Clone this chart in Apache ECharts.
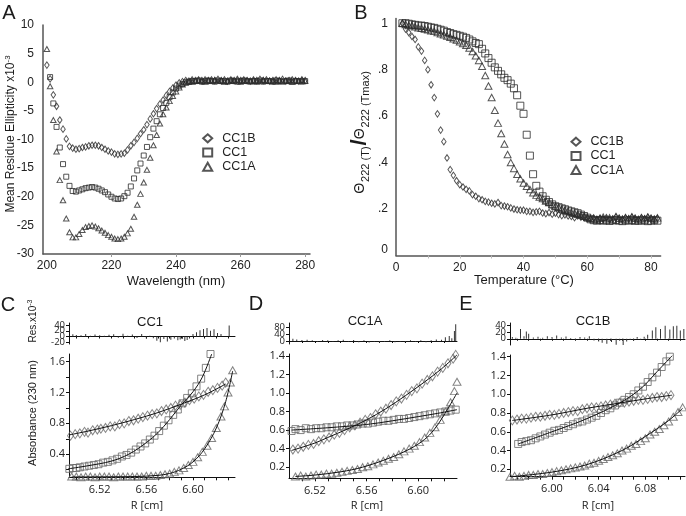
<!DOCTYPE html>
<html><head><meta charset="utf-8">
<script src="https://cdn.jsdelivr.net/npm/echarts@6/dist/echarts.min.js"></script>
<style>html,body{margin:0;padding:0;background:#fff}#c{width:686px;height:516px}</style>
</head><body><div id="c"></div><script>
// ---------- Panel A: CD spectra (wavelength, nm) ----------
const A_CC1B_start = 200;
const A_CC1B = [3.0,0.6,-2.2,-4.2,-6.6,-8.2,-9.9,-11.2,-11.5,-11.7,
 -11.6,-11.4,-11.3,-11.1,-11.0,-11.0,-11.1,-11.4,-11.7,-12.0,
 -12.2,-12.5,-12.6,-12.5,-12.4,-11.8,-11.1,-10.5,-9.8,-9.0,
 -8.3,-7.4,-6.4,-5.5,-4.6,-3.8,-3.1,-2.3,-1.6,-1.0,
 -0.5,-0.1,0.1,0.3,0.2,0.4,0.3,0.4,0.3,0.4,
 0.3,0.4,0.3,0.5,0.3,0.4,0.2,0.4,0.3,0.5,
 0.3,0.4,0.3,0.2,0.4,0.3,0.5,0.3,0.4,0.2,
 0.3,0.4,0.3,0.5,0.2,0.3,0.4,0.3,0.2,0.4,0.3];
const A_CC1_start = 201;
const A_CC1 = [0.9,-3.7,-7.8,-11.4,-14.3,-16.5,-18.1,-19.0,-19.1,-18.9,
 -18.7,-18.5,-18.4,-18.3,-18.4,-18.6,-18.9,-19.2,-19.6,-20.0,
 -20.3,-20.4,-20.3,-19.9,-19.3,-18.2,-16.8,-15.4,-14.2,-12.8,
 -11.3,-9.6,-8.1,-6.8,-5.6,-4.5,-3.6,-2.6,-1.8,-1.1,
 -0.6,-0.3,0.0,0.1,0.2,0.2,0.3,0.1,0.2,0.3,
 0.2,0.1,0.3,0.2,0.2,0.1,0.3,0.2,0.1,0.2,
 0.3,0.2,0.1,0.2,0.2,0.3,0.1,0.2,0.2,0.1,
 0.3,0.2,0.1,0.2,0.3,0.1,0.2,0.2,0.1,0.2];
const A_CC1A_start = 200;
const A_CC1A = [5.8,-0.7,-6.6,-12.1,-17.1,-20.6,-23.8,-26.2,-27.1,-27.1,
 -26.5,-25.8,-25.3,-25.1,-25.0,-25.2,-25.5,-25.9,-26.3,-26.7,
 -27.0,-27.3,-27.4,-27.3,-27.0,-26.4,-25.6,-23.5,-21.4,-19.5,
 -17.5,-15.3,-13.2,-11.0,-9.2,-7.2,-5.6,-4.4,-3.3,-2.4,
 -1.6,-0.9,-0.4,-0.1,0.1,0.1,0.2,0.3,0.2,0.1,
 0.3,0.2,0.4,0.2,0.3,0.1,0.2,0.3,0.2,0.4,
 0.1,0.2,0.3,0.2,0.3,0.1,0.2,0.4,0.2,0.3,
 0.2,0.1,0.3,0.2,0.3,0.2,0.1,0.3,0.2,0.4,0.2];
const A_xLabels = [200,220,240,260,280];

// ---------- Panel B: thermal melts (temperature, °C) ----------
const B_start = 2;
const B_CC1B = [1.0,0.975,0.96,0.943,0.93,0.898,0.88,0.84,0.80,0.735,
 0.68,0.61,0.54,0.49,0.42,0.37,0.345,0.322,0.305,0.295,
 0.285,0.278,0.262,0.255,0.245,0.24,0.233,0.23,0.225,0.222,
 0.228,0.215,0.213,0.21,0.205,0.2,0.197,0.195,0.195,0.19,
 0.19,0.186,0.188,0.19,0.183,0.18,0.185,0.178,0.182,0.176,
 0.172,0.175,0.17,0.168,0.163,0.17,0.165,0.165,0.16,0.158,
 0.162,0.155,0.16,0.157,0.163,0.155,0.158,0.165,0.16,0.155,
 0.162,0.158,0.165,0.16,0.155,0.163,0.158,0.165,0.16,0.155,0.16];
const B_CC1 = [1.0,1.0,0.998,0.995,0.993,0.99,0.99,0.988,0.985,0.982,
 0.98,0.976,0.972,0.968,0.962,0.958,0.953,0.95,0.946,0.942,
 0.937,0.93,0.922,0.915,0.91,0.89,0.87,0.85,0.83,0.81,
 0.795,0.78,0.765,0.755,0.74,0.72,0.69,0.645,0.61,0.52,
 0.43,0.35,0.30,0.275,0.255,0.24,0.23,0.22,0.212,0.208,
 0.203,0.199,0.194,0.19,0.186,0.182,0.176,0.17,0.163,0.156,
 0.152,0.15,0.153,0.15,0.152,0.149,0.151,0.153,0.15,0.148,
 0.152,0.15,0.153,0.149,0.151,0.15,0.152,0.148,0.15,0.152,0.15];
const B_CC1A = [1.0,0.995,0.99,0.99,0.985,0.98,0.978,0.975,0.972,0.968,
 0.965,0.96,0.955,0.95,0.945,0.94,0.933,0.928,0.92,0.913,
 0.905,0.893,0.878,0.86,0.84,0.815,0.775,0.73,0.68,0.625,
 0.57,0.525,0.48,0.435,0.40,0.375,0.35,0.33,0.312,0.298,
 0.284,0.27,0.26,0.252,0.245,0.235,0.228,0.22,0.213,0.207,
 0.20,0.195,0.19,0.185,0.182,0.178,0.175,0.17,0.165,0.16,
 0.158,0.155,0.16,0.165,0.158,0.162,0.155,0.168,0.16,0.157,
 0.163,0.158,0.166,0.16,0.155,0.162,0.158,0.165,0.16,0.157,0.162];
const B_xLabels = [0,20,40,60,80];
const B_yLabels = [0,0.2,0.4,0.6,0.8,1];

// ---------- Panel C: CC1 sedimentation equilibrium ----------
const C_diamond = [[6.495,0.64],[6.499,0.66],[6.503,0.67],[6.507,0.69],[6.510,0.68],[6.514,0.71],[6.518,0.72],[6.521,0.73],[6.525,0.74],[6.529,0.76],[6.533,0.76],[6.537,0.79],[6.541,0.80],[6.545,0.83],[6.549,0.84],[6.553,0.86],[6.557,0.88],[6.561,0.90],[6.565,0.92],[6.569,0.93],[6.573,0.96],[6.577,0.98],[6.581,1.00],[6.585,1.03],[6.589,1.04],[6.593,1.07],[6.597,1.10],[6.601,1.12],[6.605,1.15],[6.609,1.17],[6.613,1.21],[6.617,1.23],[6.621,1.26],[6.625,1.29],[6.628,1.33]];
const C_square = [[6.494,0.21],[6.497,0.22],[6.500,0.22],[6.503,0.23],[6.507,0.24],[6.511,0.25],[6.515,0.26],[6.519,0.27],[6.523,0.29],[6.527,0.30],[6.531,0.32],[6.535,0.34],[6.539,0.37],[6.543,0.39],[6.547,0.42],[6.551,0.46],[6.555,0.50],[6.559,0.54],[6.563,0.59],[6.567,0.64],[6.571,0.70],[6.575,0.77],[6.579,0.84],[6.583,0.91],[6.587,0.98],[6.591,1.06],[6.595,1.13],[6.599,1.19],[6.603,1.28],[6.607,1.38],[6.611,1.52],[6.615,1.70]];
const C_triangle = [[6.496,0.11],[6.500,0.11],[6.504,0.10],[6.508,0.11],[6.512,0.11],[6.516,0.10],[6.520,0.11],[6.524,0.11],[6.528,0.11],[6.532,0.10],[6.536,0.11],[6.540,0.11],[6.544,0.11],[6.548,0.11],[6.552,0.11],[6.556,0.11],[6.560,0.12],[6.564,0.12],[6.568,0.12],[6.572,0.13],[6.576,0.14],[6.580,0.15],[6.584,0.17],[6.588,0.19],[6.592,0.22],[6.596,0.26],[6.600,0.30],[6.604,0.36],[6.608,0.43],[6.612,0.51],[6.616,0.61],[6.620,0.74],[6.624,0.89],[6.627,1.02],[6.630,1.20],[6.632,1.33],[6.634,1.49]];
const C_fitDiamond = [[6.494,0.65],[6.51,0.70],[6.53,0.77],[6.55,0.85],[6.57,0.94],[6.59,1.05],[6.61,1.17],[6.628,1.31]];
const C_fitSquare = [[6.493,0.21],[6.51,0.25],[6.53,0.31],[6.545,0.40],[6.56,0.55],[6.57,0.68],[6.58,0.85],[6.59,1.04],[6.60,1.21],[6.608,1.40],[6.616,1.70]];
const C_fitTriangle = [[6.496,0.105],[6.55,0.11],[6.57,0.125],[6.58,0.15],[6.59,0.205],[6.60,0.30],[6.61,0.47],[6.62,0.74],[6.628,1.08],[6.634,1.48]];
const C_resid = [[6.497,8],[6.500,5],[6.504,4],[6.508,9],[6.512,3],[6.516,7],[6.520,4],[6.524,3],[6.528,6],[6.532,8],[6.536,-4],[6.540,10],[6.544,3],[6.548,7],[6.552,-5],[6.556,9],[6.560,-7],[6.563,3],[6.566,-6],[6.569,-15],[6.572,-20],[6.575,-9],[6.578,-17],[6.581,-11],[6.584,-7],[6.587,-13],[6.589,-10],[6.591,-8],[6.593,-16],[6.595,-12],[6.597,-7],[6.600,9],[6.603,15],[6.606,22],[6.609,26],[6.612,30],[6.615,20],[6.618,25],[6.621,12],[6.624,9],[6.631,38]];
const C_xLabels = [6.52,6.56,6.60];
const C_xTicks = [6.50,6.51,6.52,6.53,6.54,6.55,6.56,6.57,6.58,6.59,6.60,6.61,6.62,6.63];
const C_yLabels = [0.4,0.8,1.2,1.6];
const C_yTicks = [0.2,0.4,0.6,0.8,1.0,1.2,1.4,1.6];
const C_rLabelsA = [-20,20];
const C_rLabelsB = [0,40];

// ---------- Panel D: CC1A ----------
const D_diamond = [[6.503,0.39],[6.507,0.40],[6.511,0.42],[6.515,0.44],[6.519,0.45],[6.523,0.48],[6.527,0.50],[6.531,0.52],[6.535,0.55],[6.539,0.57],[6.543,0.60],[6.547,0.63],[6.551,0.65],[6.555,0.68],[6.559,0.71],[6.563,0.73],[6.567,0.77],[6.571,0.80],[6.575,0.83],[6.579,0.87],[6.583,0.91],[6.587,0.94],[6.591,0.98],[6.595,1.02],[6.599,1.05],[6.603,1.10],[6.607,1.14],[6.611,1.18],[6.615,1.23],[6.619,1.27],[6.623,1.32],[6.627,1.37],[6.629,1.41]];
const D_square = [[6.502,0.59],[6.505,0.61],[6.509,0.60],[6.513,0.62],[6.517,0.61],[6.521,0.62],[6.525,0.62],[6.529,0.63],[6.533,0.63],[6.537,0.64],[6.541,0.64],[6.545,0.65],[6.549,0.65],[6.553,0.66],[6.557,0.67],[6.561,0.67],[6.565,0.68],[6.569,0.69],[6.573,0.70],[6.577,0.70],[6.581,0.71],[6.585,0.72],[6.589,0.72],[6.593,0.73],[6.597,0.74],[6.601,0.75],[6.605,0.76],[6.609,0.77],[6.613,0.78],[6.617,0.79],[6.621,0.80],[6.625,0.81],[6.629,0.82]];
const D_triangle = [[6.505,0.10],[6.509,0.11],[6.513,0.10],[6.517,0.11],[6.521,0.12],[6.525,0.12],[6.529,0.13],[6.533,0.13],[6.537,0.14],[6.541,0.15],[6.545,0.16],[6.549,0.17],[6.553,0.18],[6.557,0.20],[6.561,0.21],[6.565,0.23],[6.569,0.25],[6.573,0.27],[6.577,0.29],[6.581,0.31],[6.585,0.34],[6.589,0.37],[6.593,0.40],[6.597,0.43],[6.601,0.47],[6.605,0.52],[6.609,0.57],[6.613,0.63],[6.617,0.71],[6.621,0.80],[6.625,0.90],[6.628,1.02],[6.630,1.12]];
const D_fitDiamond = [[6.502,0.38],[6.52,0.46],[6.53,0.52],[6.545,0.61],[6.56,0.71],[6.575,0.83],[6.59,0.97],[6.605,1.12],[6.618,1.26],[6.63,1.41]];
const D_fitSquare = [[6.502,0.60],[6.53,0.625],[6.56,0.66],[6.58,0.70],[6.60,0.745],[6.615,0.78],[6.63,0.82]];
const D_fitTriangle = [[6.505,0.10],[6.52,0.115],[6.54,0.15],[6.557,0.20],[6.578,0.30],[6.594,0.40],[6.605,0.50],[6.612,0.60],[6.619,0.74],[6.63,1.0]];
const D_resid = [[6.503,14],[6.506,9],[6.510,6],[6.514,8],[6.518,5],[6.522,-4],[6.526,6],[6.530,5],[6.534,-5],[6.538,4],[6.542,8],[6.546,-4],[6.550,6],[6.554,-7],[6.558,4],[6.562,-9],[6.566,-5],[6.570,-10],[6.574,-6],[6.578,5],[6.582,-8],[6.586,-5],[6.590,-9],[6.594,4],[6.598,-6],[6.602,5],[6.606,-7],[6.610,4],[6.614,9],[6.618,7],[6.621,22],[6.624,30],[6.626,16],[6.628,60],[6.629,100]];
const D_xLabels = [6.52,6.56,6.60];
const D_xTicks = [6.51,6.52,6.53,6.54,6.55,6.56,6.57,6.58,6.59,6.60,6.61,6.62];
const D_yLabels = [0.2,0.4,0.6,0.8,1.0,1.2,1.4];
const D_rLabelsA = [0,80];
const D_rLabelsB = [40];

// ---------- Panel E: CC1B ----------
const E_diamond = [[5.966,0.72],[5.970,0.73],[5.974,0.74],[5.978,0.74],[5.982,0.75],[5.986,0.76],[5.990,0.76],[5.994,0.77],[5.998,0.78],[6.002,0.78],[6.006,0.79],[6.010,0.80],[6.014,0.81],[6.018,0.82],[6.022,0.82],[6.026,0.84],[6.030,0.85],[6.034,0.86],[6.038,0.86],[6.042,0.87],[6.046,0.88],[6.050,0.89],[6.054,0.90],[6.058,0.91],[6.062,0.91],[6.066,0.92],[6.070,0.93],[6.074,0.94],[6.078,0.94],[6.082,0.95],[6.086,0.96],[6.090,0.97],[6.094,0.97],[6.098,0.98],[6.102,0.99]];
const E_square = [[5.971,0.47],[5.974,0.49],[5.978,0.50],[5.982,0.51],[5.986,0.53],[5.990,0.55],[5.994,0.57],[5.998,0.59],[6.002,0.61],[6.006,0.62],[6.010,0.64],[6.014,0.66],[6.018,0.68],[6.022,0.70],[6.026,0.71],[6.030,0.73],[6.034,0.75],[6.038,0.77],[6.042,0.80],[6.046,0.83],[6.050,0.85],[6.054,0.88],[6.058,0.91],[6.062,0.94],[6.066,0.97],[6.070,1.00],[6.074,1.04],[6.078,1.08],[6.082,1.13],[6.086,1.18],[6.090,1.23],[6.094,1.29],[6.098,1.35],[6.101,1.40],[6.103,1.42]];
const E_triangle = [[5.964,0.12],[5.968,0.13],[5.972,0.12],[5.976,0.13],[5.980,0.14],[5.984,0.14],[5.988,0.15],[5.992,0.15],[5.996,0.16],[6.000,0.17],[6.004,0.18],[6.008,0.19],[6.012,0.20],[6.016,0.21],[6.020,0.22],[6.024,0.23],[6.028,0.24],[6.032,0.26],[6.036,0.27],[6.040,0.29],[6.044,0.31],[6.048,0.33],[6.052,0.35],[6.056,0.37],[6.060,0.40],[6.064,0.42],[6.068,0.45],[6.072,0.47],[6.076,0.50],[6.080,0.53],[6.084,0.57],[6.088,0.60],[6.092,0.63],[6.096,0.67],[6.100,0.71],[6.104,0.76],[6.108,0.81],[6.112,0.86]];
const E_fitDiamond = [[5.966,0.72],[6.00,0.78],[6.03,0.85],[6.06,0.91],[6.08,0.95],[6.103,0.99]];
const E_fitSquare = [[5.971,0.47],[6.00,0.60],[6.03,0.74],[6.06,0.92],[6.077,1.07],[6.09,1.24],[6.103,1.41]];
const E_fitTriangle = [[5.964,0.12],[6.00,0.17],[6.03,0.25],[6.06,0.40],[6.08,0.55],[6.10,0.72],[6.112,0.85]];
const E_resid = [[5.966,5],[5.969,3],[5.973,30],[5.976,8],[5.978,22],[5.980,15],[5.984,4],[5.988,6],[5.992,3],[5.996,8],[6.000,5],[6.004,10],[6.008,4],[6.012,7],[6.016,2],[6.020,-3],[6.024,5],[6.028,4],[6.032,8],[6.036,-5],[6.040,-8],[6.043,-12],[6.047,-15],[6.051,-10],[6.055,-18],[6.058,-6],[6.061,-20],[6.064,-8],[6.067,-4],[6.070,-6],[6.073,5],[6.076,-3],[6.079,6],[6.082,12],[6.086,25],[6.089,35],[6.093,30],[6.097,40],[6.101,28],[6.104,38],[6.107,40],[6.110,25],[6.113,30]];
const E_xLabels = [6.00,6.04,6.08];
const E_xTicks = [5.97,5.98,5.99,6.00,6.01,6.02,6.03,6.04,6.05,6.06,6.07,6.08,6.09,6.10,6.11];
const E_yLabels = [0.2,0.4,0.6,0.8,1.0,1.2,1.4];
const E_rLabelsA = [-20,20];
const E_rLabelsB = [0,40];

// ---------- build ----------
const F = '"Liberation Sans", Arial, sans-serif';
const F2 = '"Open Sans", "Liberation Sans", sans-serif';
const pairs = (start, arr) => arr.map((v, i) => [start + i, v]);
const OPEN = 'rgba(255,255,255,0)';
const NOHIDE = {hideOverlap:false, showMinLabel:true, showMaxLabel:true};

function sc(name, data, idx, symbol, size, color) {
  return {type:'scatter', name, data, xAxisIndex:idx, yAxisIndex:idx, symbol, symbolSize:size,
    itemStyle:{color:OPEN, borderColor:color, borderWidth:1}, silent:true, z:2};
}
function fit(data, idx) {
  return {type:'line', data, xAxisIndex:idx, yAxisIndex:idx, symbol:'none', smooth:0.35,
    lineStyle:{color:'#111', width:1}, silent:true, z:3};
}
function res(data, idx) {
  return {type:'bar', data, xAxisIndex:idx, yAxisIndex:idx, barWidth:1, itemStyle:{color:'#333'}, silent:true};
}
function lowX(grid, min, max, labels, ticks, main) {
  return {type:'value', gridIndex:grid, min, max,
    axisLine:{show:true, onZero:!main, onZeroAxisIndex:main ? undefined : grid, lineStyle:{color:'#111', width:1}},
    axisTick:{show:true, customValues:ticks, length:main?3:2, lineStyle:{color:'#111'}},
    axisLabel:Object.assign({show:main, customValues:labels, formatter:v=>v.toFixed(2), fontFamily:F2, fontSize:11, color:'#222', margin:7}, NOHIDE),
    splitLine:{show:false}};
}
function lowY(grid, min, max, labels, ticks, fmt, fs, lineShow) {
  return {type:'value', gridIndex:grid, min, max, position:'left',
    axisLine:{show:lineShow !== false, onZero:false, lineStyle:{color:'#111', width:1}},
    axisTick:{show:true, customValues:ticks, length:3, lineStyle:{color:'#111'}},
    axisLabel:Object.assign({customValues:labels, formatter:fmt, fontFamily:F2, fontSize:fs, color:'#222', margin:4}, NOHIDE),
    splitLine:{show:false}};
}
const f1 = v => v.toFixed(1);
const f0 = v => String(v);

const grids = [
  {left:43, top:25, width:267, height:229},
  {left:396, top:18.6, width:264.6, height:236.9},
  {left:69, top:323, width:166, height:21},
  {left:69, top:354, width:166, height:123.3},
  {left:289, top:323, width:168, height:21},
  {left:289, top:354, width:168, height:124.3},
  {left:510, top:323, width:175, height:22},
  {left:510, top:355, width:175, height:121.7}
];

const xAxis = [
  {type:'value', gridIndex:0, min:198.8, max:281.5,
   axisLine:{onZero:false, lineStyle:{color:'#555', width:1.5}},
   axisTick:{show:true, customValues:[220,240,260,280], length:3, lineStyle:{color:'#999'}},
   axisLabel:Object.assign({customValues:A_xLabels, fontFamily:F, fontSize:12, color:'#222', margin:6}, NOHIDE),
   splitLine:{show:false}},
  {type:'value', gridIndex:1, min:0, max:83,
   axisLine:{onZero:false, lineStyle:{color:'#555', width:1.5}},
   axisTick:{show:true, customValues:[10,20,30,40,50,60,70,80], length:3, lineStyle:{color:'#bbb'}},
   axisLabel:Object.assign({customValues:B_xLabels, fontFamily:F, fontSize:12, color:'#222', margin:6}, NOHIDE),
   splitLine:{show:false}},
  lowX(2, 6.4937, 6.636, C_xLabels, C_xTicks, false),
  lowX(3, 6.4937, 6.636, C_xLabels, C_xTicks, true),
  lowX(4, 6.50, 6.63, D_xLabels, D_xTicks, false),
  lowX(5, 6.50, 6.63, D_xLabels, D_xTicks, true),
  lowX(6, 5.964, 6.114, E_xLabels, E_xTicks, false),
  lowX(7, 5.964, 6.114, E_xLabels, E_xTicks, true)
];
const yAxis = [
  {type:'value', gridIndex:0, min:-30, max:10, interval:5,
   axisLine:{show:true, onZero:false, lineStyle:{color:'#555', width:1.5}},
   axisTick:{show:false}, axisLabel:Object.assign({fontFamily:F, fontSize:12, color:'#222', margin:9}, NOHIDE),
   splitLine:{show:false}},
  {type:'value', gridIndex:1, min:0, max:1.02,
   axisLine:{show:true, onZero:false, lineStyle:{color:'#555', width:1.5}},
   axisTick:{show:false},
   axisLabel:Object.assign({customValues:B_yLabels,
     formatter:v => v === 0 ? '{z|0}' : (v === 1 ? '1' : String(v).replace(/^0/, '')),
     rich:{z:{fontFamily:F, fontSize:12, color:'#222', padding:[0,0,11,0]}},
     fontFamily:F, fontSize:12, color:'#222', margin:8}, NOHIDE),
   splitLine:{show:false}},
  lowY(2, -26, 47, C_rLabelsA, C_rLabelsA, f0, 9.5),
  lowY(3, 0.1, 1.7, C_yLabels, C_yTicks, f1, 11),
  lowY(4, -18, 108, D_rLabelsA, D_rLabelsA, f0, 9.5),
  lowY(5, 0.08, 1.42, D_yLabels, D_yLabels, f1, 11),
  lowY(6, -19, 48, E_rLabelsA, E_rLabelsA, f0, 9.5),
  lowY(7, 0.121, 1.418, E_yLabels, E_yLabels, f1, 11),
  // second label sets of the residual axes (same scale, same position)
  lowY(2, -26, 47, C_rLabelsB, C_rLabelsB, f0, 9.5, false),
  lowY(4, -18, 108, D_rLabelsB, D_rLabelsB, f0, 9.5, false),
  lowY(6, -19, 48, E_rLabelsB, E_rLabelsB, f0, 9.5, false)
];

const DK = '#2a2a2a', GR = '#666';
const series = [
  sc('CC1B', pairs(A_CC1B_start, A_CC1B), 0, 'diamond', [4.5,6.5], DK),
  sc('CC1', pairs(A_CC1_start, A_CC1), 0, 'rect', 5, DK),
  sc('CC1A', pairs(A_CC1A_start, A_CC1A), 0, 'triangle', [5.5,5], DK),
  sc('CC1B', pairs(B_start, B_CC1B), 1, 'diamond', [4.5,6.5], DK),
  sc('CC1', pairs(B_start, B_CC1), 1, 'rect', 7, DK),
  sc('CC1A', pairs(B_start, B_CC1A), 1, 'triangle', [7,6.5], DK),
  res(C_resid, 2),
  sc('C diamond', C_diamond, 3, 'diamond', [6,9], GR),
  sc('C square', C_square, 3, 'rect', 7, GR),
  sc('C triangle', C_triangle, 3, 'triangle', [8,7], GR),
  fit(C_fitDiamond, 3), fit(C_fitSquare, 3), fit(C_fitTriangle, 3),
  res(D_resid, 4),
  sc('D diamond', D_diamond, 5, 'diamond', [6,9], GR),
  sc('D square', D_square, 5, 'rect', 7, GR),
  sc('D triangle', D_triangle, 5, 'triangle', [8,7], GR),
  fit(D_fitDiamond, 5), fit(D_fitSquare, 5), fit(D_fitTriangle, 5),
  res(E_resid, 6),
  sc('E diamond', E_diamond, 7, 'diamond', [6,9], GR),
  sc('E square', E_square, 7, 'rect', 7, GR),
  sc('E triangle', E_triangle, 7, 'triangle', [8,7], GR),
  fit(E_fitDiamond, 7), fit(E_fitSquare, 7), fit(E_fitTriangle, 7)
];

const legendBase = {data:['CC1B','CC1','CC1A'], orient:'vertical', padding:0, itemGap:0,
  itemWidth:9, itemHeight:8, selectedMode:false,
  textStyle:{fontFamily:F, fontSize:12.5, color:'#222', lineHeight:14.2, padding:[0,0,0,5]}};
const legend = [
  Object.assign({}, legendBase, {left:202.2, top:131.2}),
  Object.assign({}, legendBase, {left:570.5, top:134.6})
];

function txt(x, y, text, size, opts) {
  return Object.assign({type:'text', x, y, silent:true,
    style:Object.assign({text, fontFamily:F, fontSize:size, fill:'#1a1a1a', align:'center', verticalAlign:'middle'}, (opts && opts.style) || {})},
    opts && opts.rotation ? {rotation:opts.rotation} : {});
}
const R90 = Math.PI / 2;
const graphic = [
  txt(9, 13, 'A', 20), txt(361, 13, 'B', 20),
  txt(8, 305, 'C', 20), txt(256, 304, 'D', 20), txt(466, 304, 'E', 20),
  txt(11, 134, 'Mean Residue Ellipticity x10{sup|-3}', 12, {rotation:R90,
     style:{rich:{sup:{fontSize:8, verticalAlign:'top', lineHeight:14, fontFamily:F, fill:'#1a1a1a'}}}}),
  txt(360, 132, '{t|Θ}{s|222 (T)}{sl|/}{t|Θ}{s|222 (Tmax)}', 12, {rotation:R90,
     style:{rich:{t:{fontSize:14, fontFamily:F, fill:'#1a1a1a', lineHeight:22, verticalAlign:'middle'},
                  s:{fontSize:11, fontFamily:F, fill:'#1a1a1a', lineHeight:22, verticalAlign:'bottom', padding:[0,1,0,1]},
                  sl:{fontSize:22, fontFamily:F, fontWeight:'bold', fill:'#1a1a1a', lineHeight:22, verticalAlign:'middle'}}}}),
  txt(176, 281, 'Wavelength (nm)', 13),
  txt(524, 280, 'Temperature (°C)', 13),
  txt(150, 322, 'CC1', 13), txt(365, 321, 'CC1A', 13), txt(593, 321, 'CC1B', 13),
  txt(33, 321, 'Res.x10{sup|-3}', 10, {rotation:R90,
     style:{rich:{sup:{fontSize:7, verticalAlign:'top', lineHeight:12, fontFamily:F, fill:'#1a1a1a'}}}}),
  txt(33, 413, 'Absorbance (230 nm)', 11, {rotation:R90}),
  txt(147, 506, 'R [cm]', 11, {style:{fontFamily:F2}}),
  txt(367, 506, 'R [cm]', 11, {style:{fontFamily:F2}}),
  txt(598, 506, 'R [cm]', 11, {style:{fontFamily:F2}})
];

const chart = echarts.init(document.getElementById('c'), null, {renderer:'canvas'});
chart.setOption({animation:false, backgroundColor:'#fff', grid:grids, xAxis, yAxis, series, legend, graphic});
</script></body></html>
